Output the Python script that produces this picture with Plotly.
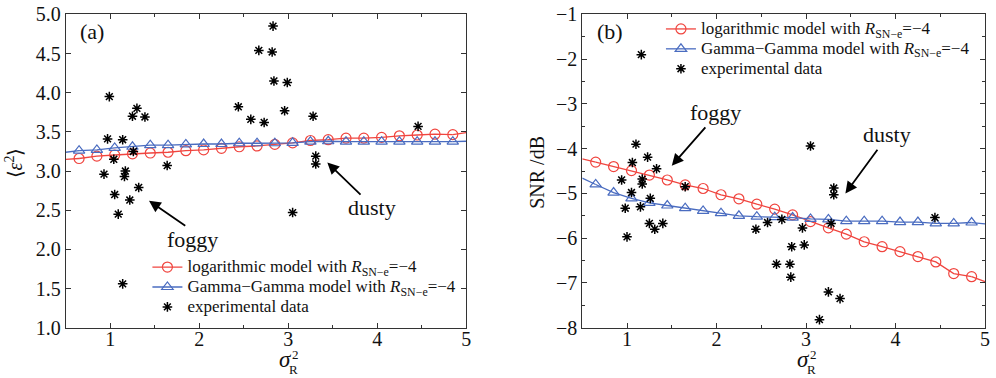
import plotly.graph_objects as go

# ---------------- data ----------------
model_x = [0.65, 0.85, 1.05, 1.25, 1.45, 1.65, 1.85, 2.05, 2.25, 2.45, 2.65,
           2.85, 3.05, 3.25, 3.45, 3.65, 3.85, 4.05, 4.25, 4.45, 4.65, 4.85]
edge_x = [0.5, 0.65, None, 4.85, 5.0]

# panel (a): <eps^2>
a_log = [3.16, 3.19, 3.205, 3.22, 3.23, 3.24, 3.26, 3.27, 3.29, 3.31, 3.32,
         3.34, 3.36, 3.39, 3.40, 3.42, 3.42, 3.43, 3.45, 3.46, 3.47, 3.465]
a_gg = [3.26, 3.27, 3.295, 3.31, 3.33, 3.33, 3.34, 3.345, 3.345, 3.355, 3.355,
        3.355, 3.36, 3.375, 3.38, 3.375, 3.375, 3.375, 3.375, 3.375, 3.375, 3.375]
a_log_edge = [3.15, 3.16, None, 3.465, 3.49]
a_gg_edge = [3.24, 3.26, None, 3.375, 3.38]
a_exp_x = [0.99, 0.97, 0.93, 1.04, 1.14, 1.25, 1.30, 1.39, 1.26, 1.17, 1.16,
           1.32, 1.64, 1.05, 1.09, 1.22, 1.14,
           2.44, 2.58, 2.67, 2.83, 2.82, 2.84, 2.99, 2.73, 2.96, 3.28, 3.31,
           3.31, 4.46, 3.05]
a_exp_y = [3.95, 3.41, 2.96, 3.15, 3.40, 3.70, 3.80, 3.69, 3.25, 3.00, 2.93,
           2.79, 3.07, 2.70, 2.45, 2.63, 1.56,
           3.82, 3.66, 4.54, 4.85, 4.52, 4.15, 4.13, 3.62, 3.77, 3.70, 3.19,
           3.09, 3.57, 2.47]

# panel (b): SNR / dB
b_log = [-4.30, -4.40, -4.49, -4.59, -4.70, -4.81, -4.89, -5.03, -5.12, -5.24,
         -5.35, -5.48, -5.63, -5.77, -5.91, -6.08, -6.19, -6.30, -6.41, -6.53,
         -6.79, -6.86]
b_gg = [-4.80, -4.98, -5.11, -5.21, -5.27, -5.33, -5.39, -5.44, -5.50, -5.52,
        -5.53, -5.54, -5.57, -5.58, -5.62, -5.62, -5.62, -5.64, -5.64, -5.67,
        -5.67, -5.65]
b_log_edge = [-4.23, -4.30, None, -6.86, -6.97]
b_gg_edge = [-4.66, -4.80, None, -5.65, -5.68]
b_exp_x = [1.16, 1.10, 1.23, 1.06, 1.33, 0.94, 1.17, 1.17, 1.65, 1.05, 0.98,
           1.15, 1.26, 1.25, 1.31, 1.40, 1.00,
           3.05, 3.31, 3.31, 2.44, 2.57, 2.73, 2.96, 3.28, 2.84, 2.98, 2.67,
           2.82, 2.83, 3.25, 3.38, 3.15, 4.44]
b_exp_y = [-1.90, -3.90, -4.19, -4.31, -4.45, -4.70, -4.68, -4.79, -4.85, -4.98,
           -5.33, -5.30, -5.11, -5.67, -5.80, -5.67, -5.97,
           -3.94, -4.88, -5.03, -5.80, -5.65, -5.58, -5.77, -5.67, -6.19, -6.15,
           -6.58, -6.58, -6.87, -7.20, -7.35, -7.82, -5.54]

x_ticks = [1, 2, 3, 4, 5]
a_yticks = [1.0, 1.5, 2.0, 2.5, 3.0, 3.5, 4.0, 4.5, 5.0]
b_yticks = [-8, -7, -6, -5, -4, -3, -2, -1]

# ---------------- style ----------------
RED = "#f0453f"
BLUE = "#4a6cc0"
FONT = "Liberation Serif"
SPAN = "<span style='font-size:17px'>%s</span>"
leg_log = SPAN % "logarithmic model with <i>R</i><sub>SN−e</sub>=−4"
leg_gg = SPAN % "Gamma−Gamma model with <i>R</i><sub>SN−e</sub>=−4"
leg_exp = SPAN % "experimental data"

fig = go.Figure()


def add_panel(xa, ya, legend, log_y, gg_y, log_edge, gg_edge, ex, ey):
    fig.add_trace(go.Scatter(x=edge_x, y=log_edge, mode="lines", xaxis=xa, yaxis=ya,
                             line=dict(color=RED, width=1.3), showlegend=False,
                             hoverinfo="skip"))
    fig.add_trace(go.Scatter(x=edge_x, y=gg_edge, mode="lines", xaxis=xa, yaxis=ya,
                             line=dict(color=BLUE, width=1.3), showlegend=False,
                             hoverinfo="skip"))
    fig.add_trace(go.Scatter(x=model_x, y=log_y, mode="lines+markers", xaxis=xa, yaxis=ya,
                             name=leg_log, legend=legend,
                             line=dict(color=RED, width=1.3),
                             marker=dict(symbol="circle-open", size=10, color=RED,
                                         line=dict(width=1.2, color=RED))))
    fig.add_trace(go.Scatter(x=model_x, y=gg_y, mode="lines+markers", xaxis=xa, yaxis=ya,
                             name=leg_gg, legend=legend,
                             line=dict(color=BLUE, width=1.3),
                             marker=dict(symbol="triangle-up-open", size=10, color=BLUE,
                                         line=dict(width=1.2, color=BLUE))))
    fig.add_trace(go.Scatter(x=ex, y=ey, mode="markers", xaxis=xa, yaxis=ya,
                             name=leg_exp, legend=legend,
                             marker=dict(symbol="asterisk-open", size=8, color="black",
                                         line=dict(width=1.5, color="black"))))


add_panel("x", "y", "legend", a_log, a_gg, a_log_edge, a_gg_edge, a_exp_x, a_exp_y)
add_panel("x2", "y2", "legend2", b_log, b_gg, b_log_edge, b_gg_edge, b_exp_x, b_exp_y)

axis_common = dict(showline=True, linecolor="#333", linewidth=1.2, mirror="ticks",
                   ticks="inside", ticklen=5, tickcolor="#333", showgrid=False,
                   zeroline=False, tickfont=dict(family=FONT, size=20, color="#111"))
xminor = dict(ticks="inside", ticklen=3, dtick=0.5, tickcolor="#333")

fig.update_layout(
    width=996, height=378,
    margin=dict(l=0, r=0, t=0, b=0, autoexpand=False),
    paper_bgcolor="white", plot_bgcolor="white",
    font=dict(family=FONT, color="#111"),
    xaxis=dict(domain=[0.066, 0.468], range=[0.5, 5], tickvals=x_ticks,
               minor=xminor, ticklabelstandoff=-7, **axis_common),
    yaxis=dict(domain=[0.133, 0.962], range=[1.0, 5.0], tickvals=a_yticks,
               ticktext=["%.1f" % v for v in a_yticks], **axis_common),
    xaxis2=dict(domain=[0.5846, 0.989], range=[0.5, 5], tickvals=x_ticks,
                minor=xminor, anchor="y2", ticklabelstandoff=-7, **axis_common),
    yaxis2=dict(domain=[0.133, 0.962], range=[-8, -1], tickvals=b_yticks,
                ticktext=["−%d" % abs(v) for v in b_yticks], anchor="x2",
                minor=dict(ticks="inside", ticklen=3, dtick=0.5, tickcolor="#333"),
                **axis_common),
    legend=dict(x=0.148, y=0.333, xanchor="left", yanchor="top",
                bgcolor="rgba(0,0,0,0)", font=dict(family=FONT, size=13, color="#111"),
                tracegroupgap=0, itemwidth=30),
    legend2=dict(x=0.6636, y=0.963, xanchor="left", yanchor="top",
                 bgcolor="rgba(0,0,0,0)", font=dict(family=FONT, size=13, color="#111"),
                 tracegroupgap=0, itemwidth=30),
    showlegend=True,
)

ann = []
# panel labels
ann.append(dict(x=0.80, y=4.78, xref="x", yref="y", text="(a)", showarrow=False,
                font=dict(family=FONT, size=22)))
ann.append(dict(x=0.806, y=-1.39, xref="x2", yref="y2", text="(b)", showarrow=False,
                font=dict(family=FONT, size=22)))
# text labels
for xr, yr, tx, ty, txt in [("x", "y", 1.92, 2.12, "foggy"), ("x", "y", 3.94, 2.53, "dusty"),
                            ("x2", "y2", 1.99, -3.20, "foggy"), ("x2", "y2", 3.905, -3.69, "dusty")]:
    ann.append(dict(x=tx, y=ty, xref=xr, yref=yr, text=txt, showarrow=False,
                    font=dict(family=FONT, size=22)))
# arrows
for xr, yr, hx, hy, tx, ty in [("x", "y", 1.436, 2.62, 1.86, 2.29),
                               ("x", "y", 3.44, 3.11, 3.83, 2.68),
                               ("x2", "y2", 1.50, -4.38, 1.89, -3.49),
                               ("x2", "y2", 3.44, -5.0, 3.81, -3.99)]:
    ann.append(dict(x=hx, y=hy, xref=xr, yref=yr, ax=tx, ay=ty, axref=xr, ayref=yr,
                    text="", showarrow=True, arrowhead=2, arrowsize=1.3, arrowwidth=1.8,
                    arrowcolor="black"))
# axis titles: sigma_R^2 with stacked indices
for cx in (0.2871, 0.8072):
    ann.append(dict(x=cx, y=1 - 359 / 378, xref="paper", yref="paper",
                    xanchor="center", yanchor="middle",
                    text="<i>σ</i>", showarrow=False, font=dict(family=FONT, size=23)))
    ann.append(dict(x=cx, y=1 - 354 / 378, xref="paper", yref="paper", xshift=10,
                    xanchor="center", yanchor="middle",
                    text="2", showarrow=False, font=dict(family=FONT, size=13)))
    ann.append(dict(x=cx, y=1 - 369 / 378, xref="paper", yref="paper", xshift=8,
                    xanchor="center", yanchor="middle",
                    text="R", showarrow=False, font=dict(family=FONT, size=13)))
ann.append(dict(x=0.0136, y=0.569, xref="paper", yref="paper", textangle=-90,
                xanchor="center", yanchor="middle",
                text="⟨<i>ε</i><sup>2</sup>⟩", showarrow=False,
                font=dict(family=FONT, size=20)))
ann.append(dict(x=0.539, y=0.545, xref="paper", yref="paper", textangle=-90,
                xanchor="center", yanchor="middle",
                text="SNR /dB", showarrow=False,
                font=dict(family=FONT, size=20)))
fig.update_layout(annotations=ann)

fig.write_html("out.html", config={"displayModeBar": False},
               post_script="document.body.style.margin='0px';")
